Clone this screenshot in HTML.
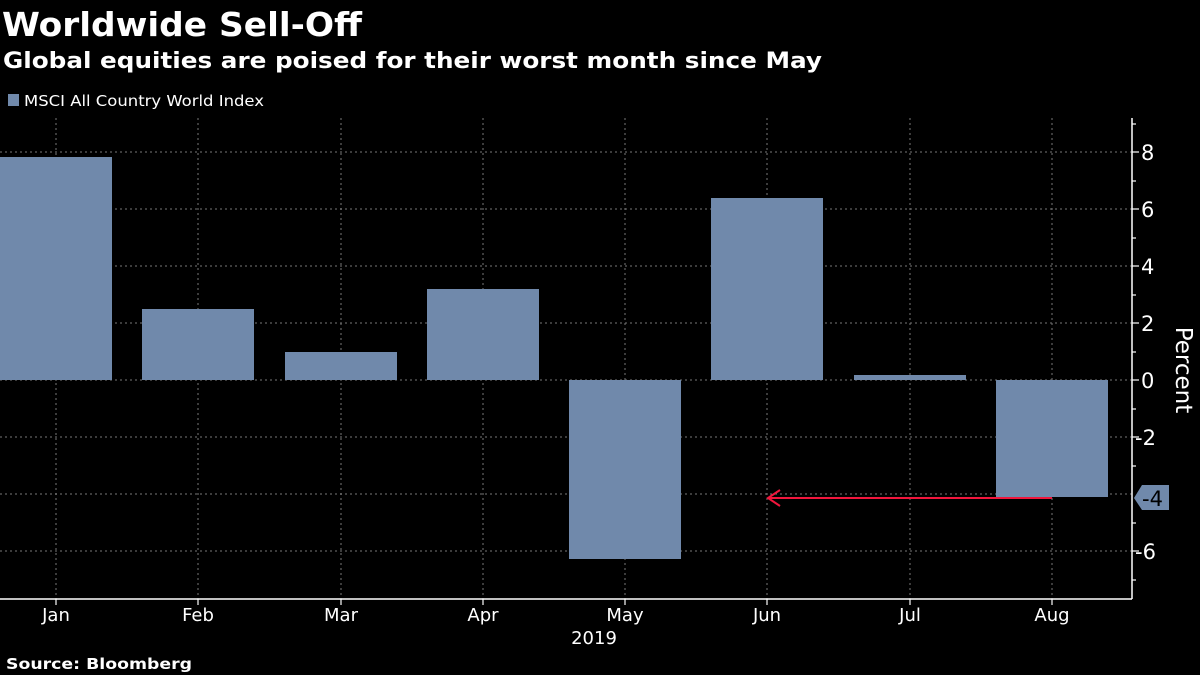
<!DOCTYPE html>
<html><head><style>
html,body{margin:0;padding:0;background:#000;width:1200px;height:675px;overflow:hidden}
svg text{font-family:"DejaVu Sans","Liberation Sans",sans-serif}
</style></head><body>
<svg width="1200" height="675" xmlns="http://www.w3.org/2000/svg">
<rect width="1200" height="675" fill="#000"/>
<text x="2" y="36" fill="#fff" font-size="33" font-weight="bold" textLength="360" lengthAdjust="spacingAndGlyphs">Worldwide Sell-Off</text>
<text x="3" y="68" fill="#fff" font-size="22" font-weight="bold" textLength="819" lengthAdjust="spacingAndGlyphs">Global equities are poised for their worst month since May</text>
<rect x="8" y="94" width="11" height="12" fill="#7089ab"/>
<text x="24" y="106" fill="#fff" font-size="15" textLength="240" lengthAdjust="spacingAndGlyphs">MSCI All Country World Index</text>
<g stroke="#777" stroke-width="1" stroke-dasharray="2,3">
<line x1="0" x2="1132" y1="152" y2="152"/><line x1="0" x2="1132" y1="209" y2="209"/>
<line x1="0" x2="1132" y1="266" y2="266"/><line x1="0" x2="1132" y1="323" y2="323"/>
<line x1="0" x2="1132" y1="380" y2="380"/><line x1="0" x2="1132" y1="437" y2="437"/>
<line x1="0" x2="1132" y1="494" y2="494"/><line x1="0" x2="1132" y1="551" y2="551"/>
<line x1="56" x2="56" y1="118" y2="599"/><line x1="198" x2="198" y1="118" y2="599"/>
<line x1="341" x2="341" y1="118" y2="599"/><line x1="483" x2="483" y1="118" y2="599"/>
<line x1="625" x2="625" y1="118" y2="599"/><line x1="767" x2="767" y1="118" y2="599"/>
<line x1="910" x2="910" y1="118" y2="599"/><line x1="1052" x2="1052" y1="118" y2="599"/>
</g>
<g fill="#7089ab">
<rect x="0" y="157" width="112" height="223"/>
<rect x="142" y="309" width="112" height="71"/>
<rect x="285" y="352" width="112" height="28"/>
<rect x="427" y="289" width="112" height="91"/>
<rect x="569" y="380" width="112" height="179"/>
<rect x="711" y="198" width="112" height="182"/>
<rect x="854" y="375" width="112" height="5"/>
<rect x="996" y="380" width="112" height="117"/>
</g>
<line x1="769" y1="498" x2="1052" y2="498" stroke="#f0163c" stroke-width="2"/>
<polyline points="780,490 768,498 780,506" fill="none" stroke="#f0163c" stroke-width="2"/>
<g stroke="#fff" stroke-width="1.5">
<line x1="1132" y1="118" x2="1132" y2="599"/>
<line x1="0" y1="599" x2="1132" y2="599"/>
</g>
<g stroke="#fff" stroke-width="1.2">
<line x1="1132" x2="1139" y1="152" y2="152"/><line x1="1132" x2="1139" y1="209" y2="209"/>
<line x1="1132" x2="1139" y1="266" y2="266"/><line x1="1132" x2="1139" y1="323" y2="323"/>
<line x1="1132" x2="1139" y1="380" y2="380"/><line x1="1132" x2="1139" y1="437" y2="437"/>
<line x1="1132" x2="1139" y1="551" y2="551"/>
<line x1="1132" x2="1136" y1="124" y2="124"/><line x1="1132" x2="1136" y1="181" y2="181"/>
<line x1="1132" x2="1136" y1="238" y2="238"/><line x1="1132" x2="1136" y1="295" y2="295"/>
<line x1="1132" x2="1136" y1="352" y2="352"/><line x1="1132" x2="1136" y1="409" y2="409"/>
<line x1="1132" x2="1136" y1="466" y2="466"/><line x1="1132" x2="1136" y1="523" y2="523"/>
<line x1="1132" x2="1136" y1="580" y2="580"/>
<line x1="56" x2="56" y1="599" y2="605"/><line x1="198" x2="198" y1="599" y2="605"/>
<line x1="341" x2="341" y1="599" y2="605"/><line x1="483" x2="483" y1="599" y2="605"/>
<line x1="625" x2="625" y1="599" y2="605"/><line x1="767" x2="767" y1="599" y2="605"/>
<line x1="910" x2="910" y1="599" y2="605"/><line x1="1052" x2="1052" y1="599" y2="605"/>
</g>
<g fill="#fff" font-size="21">
<text x="1141" y="160">8</text><text x="1141" y="217">6</text><text x="1141" y="274">4</text>
<text x="1141" y="331">2</text><text x="1141" y="388">0</text><text x="1135" y="445">-2</text>
<text x="1135" y="559">-6</text>
</g>
<polygon points="1134,498 1142,485 1169,485 1169,510 1142,510" fill="#7089ab"/>
<text x="1142" y="506" fill="#000" font-size="21">-4</text>
<text transform="translate(1176,370) rotate(90)" fill="#fff" font-size="23" text-anchor="middle">Percent</text>
<g fill="#fff" font-size="18" text-anchor="middle">
<text x="56" y="621">Jan</text><text x="198" y="621">Feb</text><text x="341" y="621">Mar</text>
<text x="483" y="621">Apr</text><text x="625" y="621">May</text><text x="767" y="621">Jun</text>
<text x="910" y="621">Jul</text><text x="1052" y="621">Aug</text>
<text x="594" y="644">2019</text>
</g>
<text x="6" y="669" fill="#fff" font-size="15" font-weight="bold" textLength="186" lengthAdjust="spacingAndGlyphs">Source: Bloomberg</text>
</svg>
</body></html>
